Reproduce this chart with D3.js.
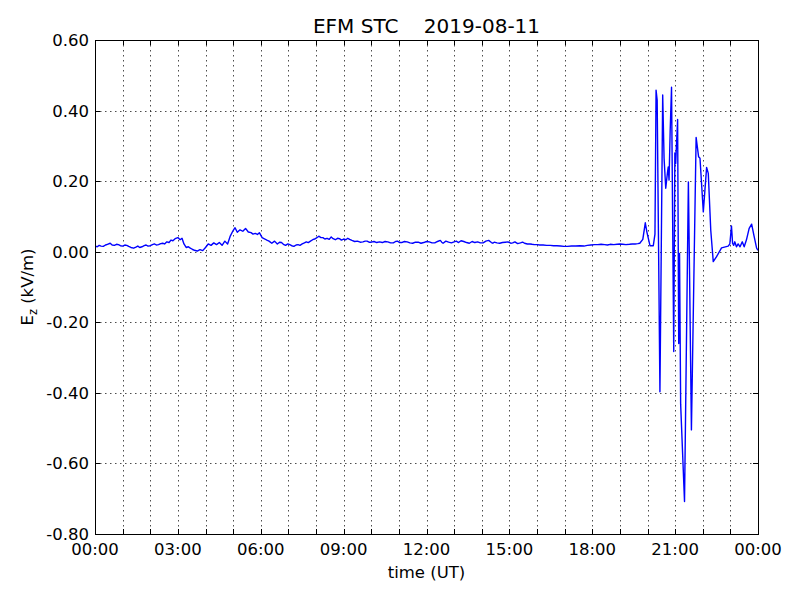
<!DOCTYPE html>
<html><head><meta charset="utf-8">
<script src="https://cdn.jsdelivr.net/npm/d3@7"></script>
<style>body{margin:0;background:#fff}text{font-family:"DejaVu Sans",sans-serif;white-space:pre}</style>
</head><body><svg id="c" width="800" height="600"></svg>
<script>
const titleText = "EFM STC    2019-08-11";
const xLabel = "time (UT)";
const xTickHours = [0,3,6,9,12,15,18,21,24];
const xTickLabels = ["00:00","03:00","06:00","09:00","12:00","15:00","18:00","21:00","00:00"];
const yTicks = [0.6,0.4,0.2,0,-0.2,-0.4,-0.6,-0.8];
const yTickLabels = ["0.60","0.40","0.20","0.00","-0.20","-0.40","-0.60","-0.80"];
const hours = [
0.00,0.08,0.15,0.22,0.30,0.38,0.45,0.55,0.62,0.70,
0.78,0.85,0.92,1.00,1.08,1.15,1.22,1.30,1.40,1.48,
1.55,1.62,1.70,1.78,1.85,1.92,2.00,2.08,2.15,2.22,
2.30,2.38,2.45,2.52,2.60,2.68,2.75,2.82,2.90,3.00,
3.08,3.15,3.22,3.30,3.38,3.45,3.52,3.60,3.70,3.80,
3.90,4.00,4.10,4.20,4.30,4.40,4.50,4.60,4.70,4.80,
4.90,5.00,5.07,5.15,5.25,5.35,5.45,5.55,5.65,5.72,
5.80,5.88,5.95,6.05,6.15,6.22,6.30,6.40,6.50,6.60,
6.68,6.75,6.82,6.90,6.98,7.05,7.12,7.20,7.28,7.35,
7.42,7.50,7.58,7.65,7.72,7.80,7.88,7.95,8.02,8.10,
8.18,8.25,8.32,8.40,8.48,8.55,8.62,8.70,8.78,8.85,
8.92,9.00,9.08,9.15,9.22,9.30,9.40,9.50,9.60,9.70,
9.78,9.85,9.92,10.00,10.10,10.20,10.30,10.40,10.50,10.60,
10.70,10.80,10.88,10.95,11.02,11.10,11.20,11.30,11.40,11.50,
11.60,11.70,11.80,11.90,12.00,12.10,12.20,12.30,12.40,12.50,
12.55,12.60,12.70,12.80,12.90,13.00,13.08,13.15,13.25,13.35,
13.45,13.55,13.65,13.75,13.85,13.95,14.05,14.15,14.25,14.35,
14.40,14.45,14.55,14.65,14.75,14.85,14.95,15.05,15.12,15.20,
15.30,15.40,15.48,15.55,15.65,15.75,15.82,15.90,16.00,16.10,
16.22,16.35,16.48,16.60,16.72,16.85,16.98,17.10,17.25,17.40,
17.55,17.70,17.82,17.95,18.08,18.20,18.32,18.45,18.55,18.65,
18.78,18.90,19.00,19.10,19.22,19.35,19.45,19.55,19.65,19.72,
19.83,19.92,19.98,20.09,20.21,20.27,20.31,20.35,20.45,20.55,
20.60,20.66,20.72,20.75,20.78,20.82,20.87,20.95,20.99,21.02,
21.09,21.13,21.16,21.20,21.34,21.48,21.52,21.59,21.76,21.85,
21.90,22.02,22.14,22.20,22.29,22.38,22.50,22.68,22.92,22.98,
23.04,23.08,23.12,23.16,23.22,23.28,23.35,23.43,23.50,23.58,
23.68,23.77,23.85,23.95,24.00];
const ez = [
0.016,0.014,0.018,0.016,0.015,0.019,0.021,0.024,0.019,0.018,
0.021,0.020,0.017,0.016,0.019,0.018,0.015,0.012,0.010,0.013,
0.016,0.012,0.014,0.017,0.019,0.016,0.017,0.020,0.022,0.019,
0.020,0.023,0.024,0.022,0.028,0.026,0.033,0.031,0.037,0.040,
0.034,0.038,0.022,0.012,0.014,0.010,0.007,0.004,0.002,0.006,
0.003,0.012,0.022,0.018,0.025,0.020,0.026,0.018,0.030,0.022,
0.045,0.060,0.068,0.055,0.062,0.058,0.066,0.056,0.054,0.050,
0.052,0.049,0.054,0.040,0.036,0.033,0.030,0.024,0.030,0.022,
0.027,0.026,0.021,0.018,0.022,0.020,0.017,0.015,0.019,0.020,
0.018,0.022,0.025,0.028,0.026,0.030,0.034,0.036,0.039,0.044,
0.040,0.040,0.036,0.038,0.035,0.042,0.037,0.034,0.038,0.037,
0.033,0.036,0.034,0.038,0.035,0.032,0.029,0.030,0.027,0.028,
0.030,0.030,0.027,0.027,0.029,0.026,0.028,0.026,0.029,0.028,
0.025,0.025,0.029,0.030,0.026,0.026,0.029,0.028,0.025,0.024,
0.027,0.027,0.024,0.026,0.029,0.028,0.025,0.025,0.029,0.032,
0.027,0.024,0.030,0.027,0.025,0.028,0.030,0.026,0.031,0.029,
0.026,0.024,0.029,0.026,0.028,0.025,0.025,0.030,0.032,0.026,
0.024,0.027,0.025,0.024,0.026,0.027,0.028,0.024,0.025,0.028,
0.023,0.025,0.027,0.024,0.022,0.022,0.021,0.020,0.020,0.019,
0.019,0.018,0.018,0.017,0.017,0.016,0.015,0.015,0.016,0.016,
0.017,0.016,0.018,0.019,0.020,0.020,0.021,0.020,0.019,0.021,
0.020,0.021,0.022,0.021,0.020,0.021,0.022,0.022,0.023,0.024,
0.035,0.082,0.055,0.017,0.017,0.050,0.458,0.430,-0.397,0.444,
0.265,0.180,0.222,0.240,0.203,0.340,0.466,-0.283,0.280,0.250,
0.375,-0.260,-0.005,-0.432,-0.708,0.198,-0.047,-0.505,0.324,0.269,
0.265,0.113,0.239,0.222,0.061,-0.028,-0.014,0.011,0.016,0.022,
0.073,0.024,0.018,0.028,0.014,0.022,0.014,0.028,0.014,0.033,
0.066,0.078,0.047,0.010,0.004];

const L=95,R=758,T=40,B=534;
const svg=d3.select("#c");
svg.append("rect").attr("width",800).attr("height",600).attr("fill","#fff");
const x=d3.scaleLinear().domain([0,24]).range([L,R]);
const y=d3.scaleLinear().domain([-0.8,0.6]).range([B,T]);
const hourGrid=d3.range(1,24);
const g=svg.append("g");
g.selectAll("line.gx").data(hourGrid).join("line").attr("x1",d=>Math.round(x(d))+0.5).attr("x2",d=>Math.round(x(d))+0.5).attr("y1",T).attr("y2",B).attr("stroke","#000").attr("stroke-width",0.7).attr("stroke-dasharray","1.5,3.5");
g.selectAll("line.gy").data(yTicks.slice(1,-1)).join("line").attr("y1",d=>Math.round(y(d))+0.5).attr("y2",d=>Math.round(y(d))+0.5).attr("x1",L).attr("x2",R).attr("stroke","#000").attr("stroke-width",0.7).attr("stroke-dasharray","1.5,3.5");
svg.append("clipPath").attr("id","cp").append("rect").attr("x",L).attr("y",T).attr("width",R-L).attr("height",B-T);
const pts=hours.map((h,i)=>[h,ez[i]]);
const line=d3.line().x(d=>x(d[0])).y(d=>y(d[1]));
svg.append("path").datum(pts).attr("d",line).attr("fill","none").attr("stroke","#0000ff").attr("stroke-width",1.4).attr("stroke-linejoin","round").attr("clip-path","url(#cp)");
const allHours=d3.range(0,25);
svg.selectAll("line.tb").data(allHours).join("line").attr("x1",d=>Math.round(x(d))+0.5).attr("x2",d=>Math.round(x(d))+0.5).attr("y1",B).attr("y2",B-5).attr("stroke","#000");
svg.selectAll("line.tt").data(allHours).join("line").attr("x1",d=>Math.round(x(d))+0.5).attr("x2",d=>Math.round(x(d))+0.5).attr("y1",T).attr("y2",T+5).attr("stroke","#000");
svg.selectAll("line.tl").data(yTicks).join("line").attr("y1",d=>Math.round(y(d))+0.5).attr("y2",d=>Math.round(y(d))+0.5).attr("x1",L).attr("x2",L+5).attr("stroke","#000");
svg.selectAll("line.tr").data(yTicks).join("line").attr("y1",d=>Math.round(y(d))+0.5).attr("y2",d=>Math.round(y(d))+0.5).attr("x1",R).attr("x2",R-5).attr("stroke","#000");
svg.append("rect").attr("x",L+0.5).attr("y",T+0.5).attr("width",R-L).attr("height",B-T).attr("fill","none").attr("stroke","#000").attr("stroke-width",1);
svg.selectAll("text.xl").data(xTickHours).join("text").attr("x",d=>x(d)).attr("y",B+21).attr("text-anchor","middle").attr("font-size",16.5).text((d,i)=>xTickLabels[i]);
svg.selectAll("text.yl").data(yTicks).join("text").attr("x",L-6).attr("y",d=>y(d)+6).attr("text-anchor","end").attr("font-size",16.5).text((d,i)=>yTickLabels[i]);
svg.append("text").attr("x",(L+R)/2).attr("y",33).attr("text-anchor","middle").attr("font-size",20).attr("xml:space","preserve").text(titleText);
svg.append("text").attr("x",(L+R)/2).attr("y",578).attr("text-anchor","middle").attr("font-size",16.5).text(xLabel);
const yl=svg.append("text").attr("transform",`translate(33,${(T+B)/2}) rotate(-90)`).attr("text-anchor","middle").attr("font-size",16.5);
yl.append("tspan").text("E");
yl.append("tspan").attr("font-size",11.5).attr("dy",4).text("z");
yl.append("tspan").attr("dy",-4).text(" (kV/m)");
</script></body></html>
